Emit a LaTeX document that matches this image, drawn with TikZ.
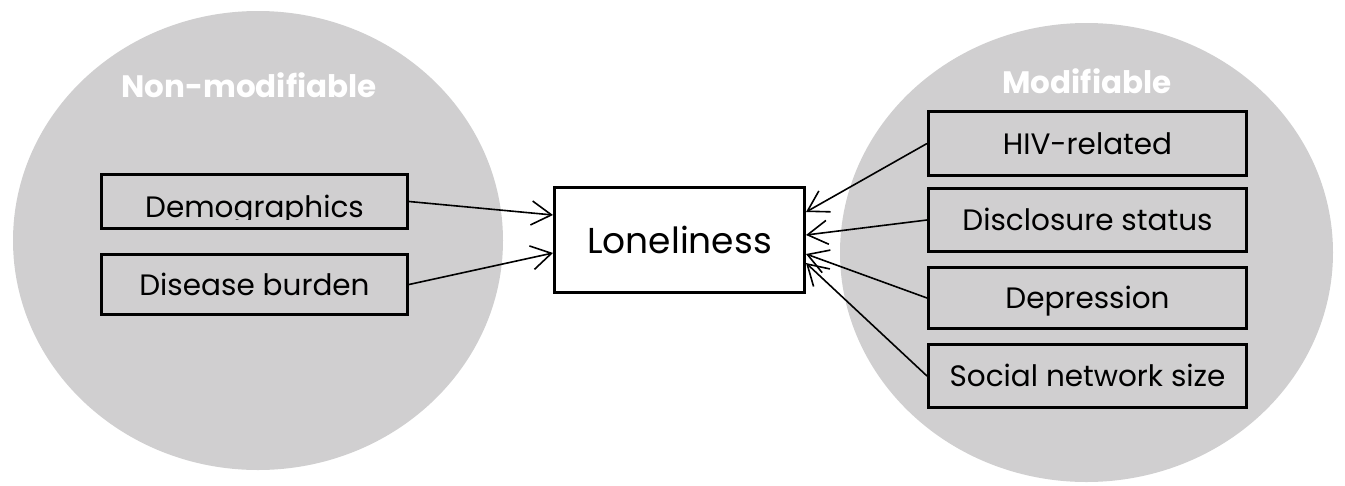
\documentclass[tikz,border=0pt]{standalone}
\usepackage{fontspec}
\setmainfont{Poppins}
\usetikzlibrary{arrows.meta}
\definecolor{circgray}{RGB}{208,207,208}
\tikzset{
  blob/.style={fill=circgray, draw=none},
  factorbox/.style={draw=black, line width=3pt, inner sep=0pt, anchor=center,
    font=\fontsize{29.5}{33}\selectfont, text height=21pt, text depth=0pt},
  centrebox/.style={draw=black, line width=3pt, inner sep=0pt, fill=white,
    font=\fontsize{36}{40}\selectfont, text height=26pt, text depth=0pt},
  heading/.style={text=white, font=\bfseries\fontsize{31}{36}\selectfont, anchor=base},
  link/.style={line width=1.6pt, -{Straight Barb[length=20pt,width=24pt]}},
}
\begin{document}
\begin{tikzpicture}[x=1pt,y=-1pt]
\useasboundingbox (0,0) rectangle (1345,485);
% background circles
\path[blob] (258,240.5) ellipse [x radius=245, y radius=229.5];
\path[blob] (1086.5,252.5) ellipse [x radius=246.5, y radius=229.5];
% headings
\node[heading] (hnon) at (249,97) {Non-modifiable};
\node[heading] (hmod) at (1087,93) {Modifiable};
% left boxes
\node[factorbox, minimum width=306pt, minimum height=54pt] (demo) at (254.5,201.5) {};
\begin{scope}
  \clip (101,174) rectangle (408,219.5);
  \node[font=\fontsize{29.5}{33}\selectfont, anchor=base, inner sep=0pt] (demotext) at (254.5,217) {Demographics};
\end{scope}
\node[factorbox, minimum width=306pt, minimum height=60pt] (dis) at (254.5,284.5) {Disease burden};
% centre box
\node[centrebox, minimum width=250pt, minimum height=105pt] (lon) at (679.5,240) {Loneliness};
% right boxes
\node[factorbox, minimum width=318pt, minimum height=64pt] (hiv) at (1087.5,143.5) {HIV-related};
\node[factorbox, minimum width=318pt, minimum height=63pt] (disc) at (1087.5,220) {Disclosure status};
\node[factorbox, minimum width=318pt, minimum height=61pt] (dep) at (1087.5,298) {Depression};
\node[factorbox, minimum width=318pt, minimum height=63pt] (soc) at (1087.5,376) {Social network size};
% connectors
\draw[link] (demo.east) -- ([yshift=25pt]lon.west);
\draw[link] (dis.east) -- ([yshift=-13pt]lon.west);
\draw[link] (hiv.west) -- ([yshift=28pt]lon.east);
\draw[link] (disc.west) -- ([yshift=5pt]lon.east);
\draw[link] (dep.west) -- ([yshift=-14pt]lon.east);
\draw[link] (soc.west) -- ([yshift=-23pt]lon.east);
\end{tikzpicture}
\end{document}
